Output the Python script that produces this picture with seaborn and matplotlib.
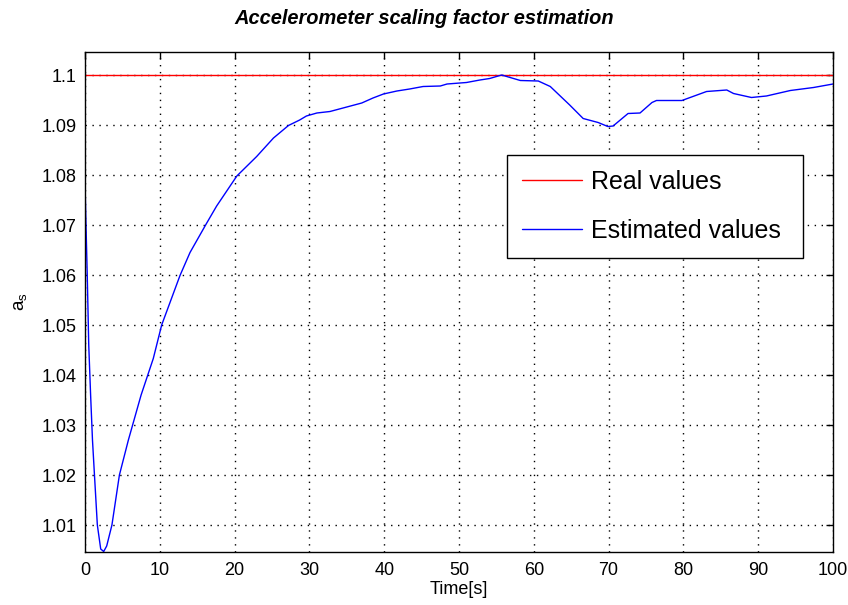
import matplotlib
matplotlib.use("Agg")
import matplotlib.pyplot as plt
import seaborn as sns
import pandas as pd
from matplotlib.ticker import FuncFormatter

# ---- data ----
real_t = [0, 100]
real_v = [1.1, 1.1]

est_t = [0, 0.15, 0.3, 0.5, 0.75, 1.0, 1.25, 1.65, 2.1, 2.5, 2.9, 3.6, 4.6, 5.8,
         7.5, 9.13, 10.25, 12.7, 14.04, 16.2, 17.6, 20.3, 22.95, 25.2, 27.2,
         28.7, 29.6, 31.0, 32.75, 35.0, 37.0, 38.5, 39.9, 41.7, 43.4, 45.2,
         47.5, 48.4, 51.0, 52.8, 54.1, 55.7, 58.2, 60.6, 62.2, 64.8, 66.6,
         68.6, 69.9, 70.6, 72.6, 74.2, 75.8, 76.4, 79.8, 83.1, 85.8, 86.7,
         89.1, 91.1, 94.3, 97.4, 100]
est_v = [1.0784, 1.069, 1.060, 1.046, 1.036, 1.027, 1.0204, 1.010, 1.0052,
         1.0047, 1.0058, 1.010, 1.020, 1.027, 1.036, 1.0433, 1.050, 1.0599,
         1.0645, 1.0702, 1.0738, 1.0798, 1.0837, 1.0874, 1.0899, 1.091,
         1.0918, 1.0924, 1.0927, 1.0936, 1.0944, 1.0954, 1.0962, 1.0968,
         1.0972, 1.0977, 1.0978, 1.0982, 1.0985, 1.099, 1.0993, 1.1, 1.0989,
         1.0988, 1.0977, 1.094, 1.0913, 1.0905, 1.0897, 1.0898, 1.0923,
         1.0924, 1.0945, 1.0949, 1.0949, 1.0967, 1.097, 1.0963, 1.0955,
         1.0958, 1.0969, 1.0975, 1.0982]

title = "Accelerometer scaling factor estimation"
xlabel = "Time[s]"
ylabel = r"$\mathregular{a_s}$"
labels = ["Real values", "Estimated values"]
xticks = list(range(0, 101, 10))
yticks = [1.01, 1.02, 1.03, 1.04, 1.05, 1.06, 1.07, 1.08, 1.09, 1.1]

sns.set_style("white")
plt.rcParams['font.family'] = ['Liberation Sans', 'DejaVu Sans']
plt.rcParams['text.color'] = 'black'
plt.rcParams['axes.labelcolor'] = 'black'

fig = plt.figure(figsize=(8.48, 6.05), dpi=100)
ax = fig.add_axes([85/848, 53/605, 748/848, 500/605])

real_df = pd.DataFrame({"t": real_t, "v": real_v})
est_df = pd.DataFrame({"t": est_t, "v": est_v})

sns.lineplot(data=real_df, x="t", y="v", ax=ax, color=(1, 0, 0), lw=1.0,
             label=labels[0], estimator=None, sort=False)
sns.lineplot(data=est_df, x="t", y="v", ax=ax, color=(0, 0, 1), lw=1.0,
             label=labels[1], estimator=None, sort=False)

ax.set_xlim(0, 100)
ax.set_ylim(1.0046, 1.1046)
ax.set_xticks(xticks)
ax.set_yticks(yticks)
ax.yaxis.set_major_formatter(FuncFormatter(lambda v, p: "%g" % round(v, 4)))
ax.grid(True, color="black", linestyle=(0, (1, 4)), linewidth=1.0)
ax.tick_params(direction="in", length=5, width=1, top=True, right=True,
               labelsize=13, colors="black", pad=6)
ax.tick_params(axis="x", pad=7)
for s in ax.spines.values():
    s.set_visible(True)
    s.set_color("black")
    s.set_linewidth(1.0)

ax.set_xlabel(xlabel, fontsize=13, labelpad=2, color="black")
ax.set_ylabel(ylabel, fontsize=13.5, labelpad=9, color="black")
fig.text(424/848, 1 - 18/605, title, fontsize=14.4, fontweight="bold",
         fontstyle="italic", ha="center", va="center", color="black")

leg = ax.legend(loc="upper left", bbox_to_anchor=(0.564, 0.586, 0.396, 0.208),
                mode="expand", borderaxespad=0, fontsize=18, frameon=True,
                fancybox=False, shadow=False, framealpha=1, edgecolor="black",
                handlelength=2.4, handletextpad=0.35, labelspacing=1.0,
                borderpad=0.6, labelcolor="black")
leg.get_frame().set_linewidth(1.0)

fig.savefig("out.png", dpi=100)
